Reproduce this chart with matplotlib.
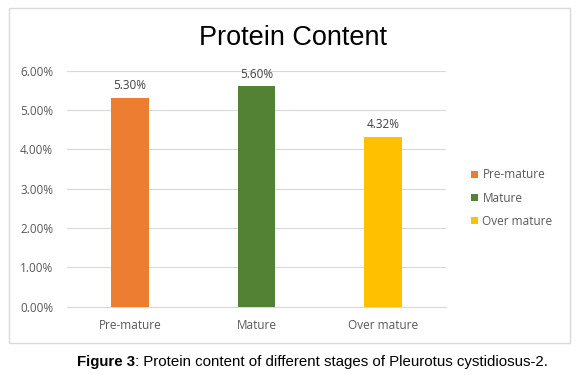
import matplotlib
matplotlib.use("Agg")
import matplotlib.pyplot as plt
from matplotlib.patches import Rectangle
from matplotlib.ticker import FuncFormatter

categories = ["Pre-mature", "Mature", "Over mature"]
values = [0.0530, 0.0560, 0.0432]
value_labels = ["5.30%", "5.60%", "4.32%"]
colors = ["#ED7D31", "#548235", "#FFC000"]
yticks = [0.0, 0.01, 0.02, 0.03, 0.04, 0.05, 0.06]

W, H = 579, 375
fig = plt.figure(figsize=(W / 100, H / 100), dpi=100)
plt.rcParams['font.family'] = ['Open Sans', 'DejaVu Sans']

# chart border
fig.patches.append(Rectangle((9 / W, 1 - 343 / H), (570 - 9) / W, (343 - 8) / H,
                             transform=fig.transFigure, fill=False,
                             edgecolor="#d9d9d9", linewidth=1.0))

left, right = 67 / W, 446 / W
bottom, top = 1 - 306.5 / H, 1 - 70.5 / H
ax = fig.add_axes([left, bottom, right - left, top - bottom])

x = list(range(len(categories)))
bars = ax.bar(x, values, width=0.30, color=colors, label=categories, zorder=3)
ax.set_xlim(-0.5, 2.5)
ax.set_ylim(0, 0.06)
ax.set_yticks(yticks)
ax.yaxis.set_major_formatter(FuncFormatter(lambda v, p: f"{v*100:.2f}%"))
ax.set_xticks(x)
ax.set_xticklabels(categories)
ax.tick_params(axis='both', length=0, colors="#595959", labelsize=8.5)
ax.tick_params(axis='x', pad=9)
ax.tick_params(axis='y', pad=10)
ax.grid(axis='y', color="#d9d9d9", linewidth=0.8, zorder=0)
for s in ["top", "right", "left"]:
    ax.spines[s].set_visible(False)
ax.spines["bottom"].set_color("#d9d9d9")

for xi, v, lab in zip(x, values, value_labels):
    ax.annotate(lab, (xi, v), xytext=(0, 4), textcoords="offset points",
                ha="center", va="bottom", color="#404040", fontsize=8.5)

fig.text(293 / W, 1 - 38 / H, "Protein Content", ha="center", va="center",
         fontsize=19.5, family=["Liberation Sans"], color="black")

leg = ax.legend(loc="center left", bbox_to_anchor=(460 / W, 1 - 198 / H),
                bbox_transform=fig.transFigure, frameon=False,
                handlelength=0.6, handleheight=0.6, handletextpad=0.4,
                labelspacing=0.85, fontsize=8.5)
for t in leg.get_texts():
    t.set_color("#595959")

t1 = fig.text(77 / W, 1 - 362 / H, "Figure 3", fontweight="bold", fontsize=10.8,
              family=["Liberation Sans"], ha="left", va="center")
fig.canvas.draw()
bb = t1.get_window_extent()
fig.text(bb.x1 / W, 1 - 362 / H, ": Protein content of different stages of Pleurotus cystidiosus-2.",
         fontsize=10.8, family=["Liberation Sans"], ha="left", va="center")

fig.savefig("out.png", dpi=100)
